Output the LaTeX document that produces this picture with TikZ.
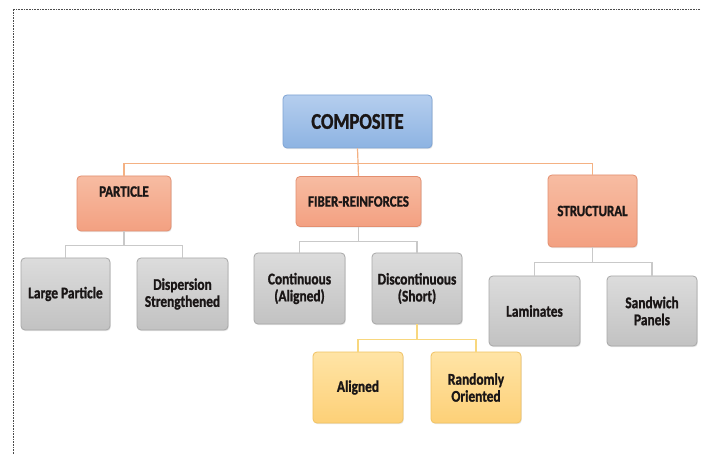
\documentclass[tikz,border=0pt]{standalone}
\usepackage{fontspec}
\setmainfont{Carlito}[FakeStretch=0.82,BoldFeatures={FakeBold=1.2}]
\usetikzlibrary{shadows}

\definecolor{blueTop}{HTML}{B5CEEE}
\definecolor{blueBot}{HTML}{8DB3E2}
\definecolor{blueEdge}{HTML}{7EA3D3}
\definecolor{orgTop}{HTML}{F7BCA2}
\definecolor{orgBot}{HTML}{F3A081}
\definecolor{orgEdge}{HTML}{E38F70}
\definecolor{grayTop}{HTML}{DCDCDC}
\definecolor{grayBot}{HTML}{C2C2C2}
\definecolor{grayEdge}{HTML}{A8A8A8}
\definecolor{ylwTop}{HTML}{FFE4A6}
\definecolor{ylwBot}{HTML}{FDD077}
\definecolor{ylwEdge}{HTML}{F0C263}
\definecolor{orgLine}{HTML}{F4B183}
\definecolor{grayLine}{HTML}{C9C9C9}
\definecolor{ylwLine}{HTML}{F8D77E}
\definecolor{ink}{HTML}{1A1616}

\begin{document}
\begin{tikzpicture}[x=1pt,y=-1pt,
  box/.style={draw,line width=0.8pt,rounded corners=4pt,align=center,
    text=ink,font=\bfseries\fontsize{16.3}{17}\selectfont,inner sep=2pt,
    drop shadow={opacity=0.18,shadow xshift=0.8pt,shadow yshift=-1.2pt}},
  topbox/.style={box,draw=blueEdge,top color=blueTop,bottom color=blueBot,
    font=\bfseries\fontsize{22.5}{24}\selectfont},
  catbox/.style={box,draw=orgEdge,top color=orgTop,bottom color=orgBot,
    font=\bfseries\fontsize{15.8}{17}\selectfont},
  subbox/.style={box,draw=grayEdge,top color=grayTop,bottom color=grayBot},
  leafbox/.style={box,draw=ylwEdge,top color=ylwTop,bottom color=ylwBot},
  link/.style={line width=1.2pt}]
  \useasboundingbox (0,0) rectangle (701,454);
  \path[fill=white] (0,0) rectangle (701,454);
  \draw[black!70,densely dotted,line width=0.6pt] (13,454) -- (13,9) -- (701,9);

  \node[topbox,minimum width=149pt,minimum height=53pt] (comp) at (357.5,121.5) {COMPOSITE};

  \node[catbox,minimum width=94pt,minimum height=55pt,text depth=24pt] (part) at (124,203.5) {PARTICLE};
  \node[catbox,minimum width=125pt,minimum height=50pt] (fib) at (358.5,201.5) {FIBER-REINFORCES};
  \node[catbox,minimum width=89pt,minimum height=72pt] (str) at (592.5,211) {STRUCTURAL};

  \node[subbox,minimum width=89pt,minimum height=72pt] (lp) at (65.5,294) {Large Particle};
  \node[subbox,minimum width=91pt,minimum height=72pt] (disp) at (182.5,294) {Dispersion\\Strengthened};
  \node[subbox,minimum width=91pt,minimum height=71pt] (cont) at (299.5,288.5) {Continuous\\(Aligned)};
  \node[subbox,minimum width=90pt,minimum height=71pt] (disc) at (417,288.5) {Discontinuous\\(Short)};
  \node[subbox,minimum width=91pt,minimum height=70pt] (lam) at (534.5,311) {Laminates};
  \node[subbox,minimum width=90pt,minimum height=70pt] (sand) at (652,311) {Sandwich\\Panels};

  \node[leafbox,minimum width=90pt,minimum height=71pt] (alg) at (358,387.5) {Aligned};
  \node[leafbox,minimum width=90pt,minimum height=71pt] (rnd) at (476,387.5) {Randomly\\Oriented};

  \coordinate (cbus) at ([yshift=-15pt]comp.south);
  \draw[link,orgLine] (comp.south) -- (fib.north);
  \draw[link,orgLine] (cbus) -| (part.north);
  \draw[link,orgLine] (cbus) -| (str.north);

  \draw[link,grayLine] (part.south) -- ++(0,14) coordinate (pbus) -| (lp.north);
  \draw[link,grayLine] (pbus) -| (disp.north);
  \draw[link,grayLine] (fib.south) -- ++(0,15) coordinate (fbus) -| (cont.north);
  \draw[link,grayLine] (fbus) -| (disc.north);
  \draw[link,grayLine] (str.south) -- ++(0,15) coordinate (sbus) -| (lam.north);
  \draw[link,grayLine] (sbus) -| (sand.north);

  \draw[link,ylwLine] (disc.south) -- ++(0,15) coordinate (dbus) -| (alg.north);
  \draw[link,ylwLine] (dbus) -| (rnd.north);
\end{tikzpicture}
\end{document}
